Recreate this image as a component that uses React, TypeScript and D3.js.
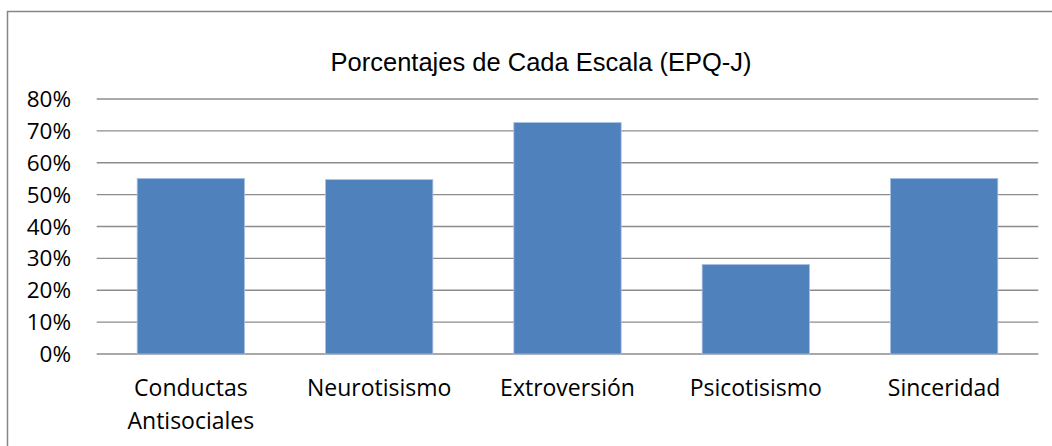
import React from "react";
import * as d3 from "d3";

const categories: string[][] = [
  ["Conductas", "Antisociales"],
  ["Neurotisismo"],
  ["Extroversión"],
  ["Psicotisismo"],
  ["Sinceridad"],
];
const values: number[] = [0.551, 0.547, 0.726, 0.281, 0.551];
const yTicks: number[] = [0, 0.1, 0.2, 0.3, 0.4, 0.5, 0.6, 0.7, 0.8];
const title = "Porcentajes de Cada Escala (EPQ-J)";

export default function App() {
  const W = 1052;
  const H = 446;
  const plotLeft = 96.7;
  const plotRight = 1038.3;
  const plotTop = 99;
  const plotBottom = 354;

  const keys = categories.map((c) => c.join(" "));
  const x = d3
    .scaleBand<string>()
    .domain(keys)
    .range([plotLeft, plotRight])
    .paddingInner(0.43)
    .paddingOuter(0.215);
  const y = d3.scaleLinear().domain([0, 0.8]).range([plotBottom, plotTop]);
  const fmt = d3.format(".0%");

  return (
    <svg
      width={W}
      height={H}
      style={{ position: "absolute", left: 0, top: 0, background: "#fff" }}
    >
      <rect x={0} y={0} width={W} height={H} fill="#fff" />
      <rect
        x={7.5}
        y={11.5}
        width={W + 50}
        height={H + 50}
        fill="none"
        stroke="#868686"
        strokeWidth={1.5}
      />
      <text
        x={541}
        y={71}
        textAnchor="middle"
        fontFamily="Liberation Sans, Arial, sans-serif"
        fontSize={25.5}
        fill="#000"
      >
        {title}
      </text>
      {yTicks.map((t) => (
        <g key={t}>
          <line
            x1={plotLeft}
            x2={plotRight}
            y1={y(t)}
            y2={y(t)}
            stroke="#8c8c8c"
            strokeWidth={1.4}
          />
          <text
            x={71}
            y={y(t)}
            dy="0.36em"
            textAnchor="end"
            fontFamily="Open Sans, sans-serif"
            fontSize={22.5}
            fill="#000"
          >
            {fmt(t)}
          </text>
        </g>
      ))}
      {values.map((v, i) => (
        <rect
          key={keys[i]}
          x={x(keys[i])!}
          y={y(v)}
          width={x.bandwidth()}
          height={plotBottom - y(v)}
          fill="#4F81BD"
          stroke="#a9c2e3"
          strokeWidth={0.8}
        />
      ))}
      {categories.map((lines, i) => (
        <text
          key={keys[i]}
          x={x(keys[i])! + x.bandwidth() / 2}
          y={396}
          textAnchor="middle"
          fontFamily="Open Sans, sans-serif"
          fontSize={23}
          fill="#000"
        >
          {lines.map((l, j) => (
            <tspan key={j} x={x(keys[i])! + x.bandwidth() / 2} dy={j === 0 ? 0 : 33}>
              {l}
            </tspan>
          ))}
        </text>
      ))}
    </svg>
  );
}
